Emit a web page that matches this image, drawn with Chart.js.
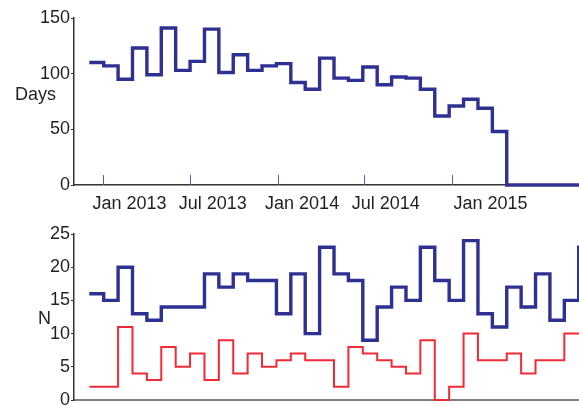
<!DOCTYPE html>
<html>
<head>
<meta charset="utf-8">
<script src="https://cdn.jsdelivr.net/npm/chart.js@4.4.1/dist/chart.umd.min.js"></script>
<style>
  body { margin: 0; width: 579px; height: 406px; overflow: hidden; position: relative; background: #fff; }
  canvas { position: absolute; left: 0; }
</style>
</head>
<body>
<canvas id="daysChart" width="579" height="230" style="top:0"></canvas>
<canvas id="nChart" width="579" height="230" style="top:215px"></canvas>
<script>
// x axis: dates, one step every ~30 days starting early Dec 2012
const tickDates = ['2013-01-01', '2013-07-01', '2014-01-01', '2014-07-01', '2015-01-01'];
// the labels sit a little to the right of their tick marks in the original
const labelDates = ['2013-02-25', '2013-08-18', '2014-02-21', '2014-08-15', '2015-03-22'];
const tickLabels = ['Jan 2013', 'Jul 2013', 'Jan 2014', 'Jul 2014', 'Jan 2015'];
const axisStart = '2012-11-01';
const axisEnd = '2015-09-23';
const firstBin = '2012-12-03';
const binDays = 30.1;

// top panel (Days)
const daysValues = [110, 107, 95, 123, 99, 141, 103, 111, 140, 101, 117, 103, 107, 109, 92, 86, 114, 96, 94, 106,
                    90, 97, 96, 86, 62, 71, 77, 69, 48, 0, 0, 0, 0, 0, 0];
// bottom panel (N)
const nBlue = [16, 15, 20, 13, 12, 14, 14, 14, 19, 17, 19, 18, 18, 13, 19, 10, 23, 19, 18, 9,
               14, 17, 15, 23, 18, 15, 24, 13, 11, 17, 14, 19, 12, 15, 23];
const nRed = [2, 2, 11, 4, 3, 8, 5, 7, 3, 9, 4, 7, 5, 6, 7, 6, 6, 2, 8, 7,
              6, 5, 4, 9, 0, 2, 10, 6, 6, 7, 4, 6, 6, 10, 10];

const blue = '#2e3192';
const red = '#ee2b36';
const axisColor = '#333333';

function day(s) {
  const [y, m, d] = s.split('-').map(Number);
  return Date.UTC(y, m - 1, d) / 864e5;
}

// points at the start of each bin, plus one closing point at the end of the last bin
function steps(vals) {
  const start = day(firstBin);
  const pts = vals.map((v, i) => ({ x: start + i * binDays, y: v }));
  pts.push({ x: start + vals.length * binDays, y: vals[vals.length - 1] });
  return pts;
}

Chart.defaults.font.family = '"Liberation Sans", Arial, Helvetica, sans-serif';
Chart.defaults.font.size = 18;
Chart.defaults.color = '#231f20';
Chart.defaults.animation = false;

// small tick marks pointing up into the plot, and a horizontal y title
const extras = {
  id: 'extras',
  beforeDatasetsDraw(chart, args, opts) {
    const ctx = chart.ctx;
    const area = chart.chartArea;
    if (opts.innerTicks) {
      const xs = chart.scales.x;
      ctx.save();
      ctx.strokeStyle = '#5b5bb5';
      ctx.lineWidth = 1;
      tickDates.forEach(d => {
        const px = Math.round(xs.getPixelForValue(day(d))) + 0.5;
        ctx.beginPath();
        ctx.moveTo(px, area.bottom);
        ctx.lineTo(px, area.bottom - 10);
        ctx.stroke();
      });
      ctx.restore();
    }
  },
  afterDraw(chart, args, opts) {
    const ctx = chart.ctx;
    ctx.save();
    ctx.font = '18px "Liberation Sans", Arial, sans-serif';
    ctx.fillStyle = '#231f20';
    ctx.textAlign = 'left';
    ctx.textBaseline = 'alphabetic';
    ctx.fillText(opts.title, opts.titleX, opts.titleY);
    ctx.restore();
  }
};

function makeChart(id, datasets, yMax, yStep, opts) {
  return new Chart(document.getElementById(id), {
    type: 'line',
    data: { datasets: datasets },
    options: {
      responsive: false,
      layout: { padding: { top: opts.top, right: 0, left: 0, bottom: 0 } },
      plugins: {
        legend: { display: false },
        tooltip: { enabled: false },
        extras: opts
      },
      scales: {
        x: {
          type: 'linear',
          min: day(axisStart),
          max: day(axisEnd),
          afterBuildTicks: s => { s.ticks = labelDates.map(d => ({ value: day(d) })); },
          afterFit: s => { s.height = 45; s.paddingLeft = 0; s.paddingRight = 0; },
          ticks: {
            padding: 8,
            maxRotation: 0,
            autoSkip: false,
            callback: v => tickLabels[labelDates.findIndex(d => day(d) === v)]
          },
          grid: { display: false, drawTicks: false },
          border: { display: true, color: opts.xBorder, width: opts.xBorderWidth }
        },
        y: {
          min: 0,
          max: yMax,
          afterFit: s => { s.width = 74; },
          ticks: { stepSize: yStep, padding: 1 },
          grid: { drawOnChartArea: false, tickLength: 3, color: axisColor, lineWidth: 1 },
          border: { display: true, color: axisColor, width: 1.5 }
        }
      }
    },
    plugins: [extras]
  });
}

function line(vals, color, width) {
  return {
    data: steps(vals),
    borderColor: color,
    borderWidth: width,
    stepped: true,
    pointRadius: 0,
    fill: false,
    clip: false,
    borderJoinStyle: 'miter',
    borderCapStyle: 'butt'
  };
}

makeChart('daysChart', [line(daysValues, blue, 3.4)], 150, 50, {
  top: 18, innerTicks: true, xBorder: axisColor, xBorderWidth: 1.5,
  title: 'Days', titleX: 15, titleY: 100
});

makeChart('nChart', [line(nBlue, blue, 3.4), line(nRed, red, 2)], 25, 5, {
  top: 19, innerTicks: false, xBorder: '#808080', xBorderWidth: 2,
  title: 'N', titleX: 38, titleY: 109
});
</script>
</body>
</html>
